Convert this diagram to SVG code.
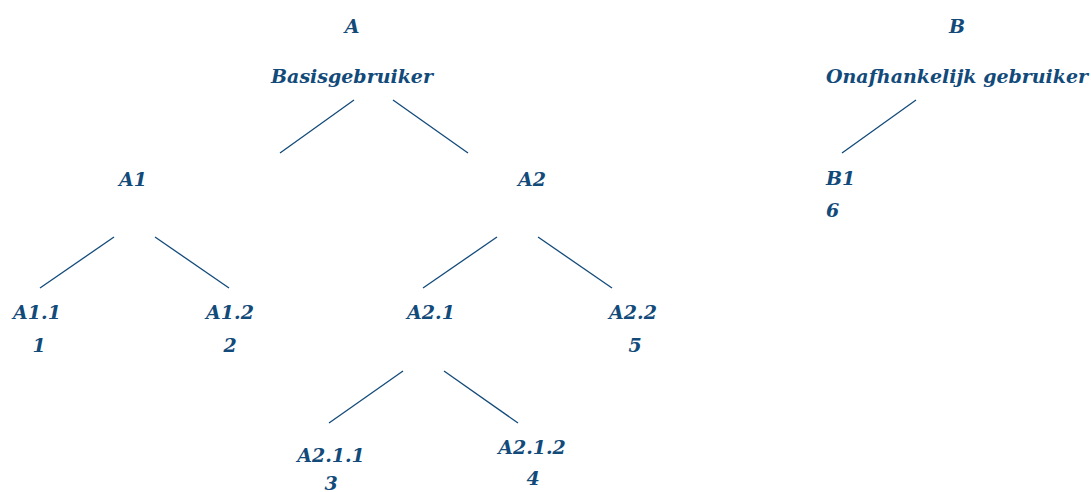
<svg xmlns="http://www.w3.org/2000/svg" width="1091" height="492" viewBox="0 0 1091 492">
<style>
text{font-family:"DejaVu Serif","Liberation Serif",serif;font-weight:bold;font-style:italic;font-size:19px;fill:#124a7a;text-anchor:middle}
.l{text-anchor:start}
line{stroke:#124a7a;stroke-width:1.3}
</style>
<rect width="1091" height="492" fill="#fff"/>
<g id="connectors">
<line x1="354" y1="100" x2="280" y2="153"/>
<line x1="393" y1="100" x2="468" y2="153"/>
<line x1="114" y1="237" x2="40" y2="288"/>
<line x1="155" y1="237" x2="229" y2="288"/>
<line x1="497" y1="237" x2="423" y2="288"/>
<line x1="538" y1="237" x2="612" y2="288"/>
<line x1="403" y1="371" x2="329" y2="423"/>
<line x1="444" y1="371" x2="518" y2="423"/>
<line x1="916" y1="100" x2="842" y2="153"/>
</g>
<g id="A"><text x="352" y="33">A</text><text x="352" y="83">Basisgebruiker</text></g>
<g id="A1"><text x="133" y="186">A1</text></g>
<g id="A2"><text x="532" y="186">A2</text></g>
<g id="A1.1"><text x="37" y="319">A1.1</text><text x="39" y="352">1</text></g>
<g id="A1.2"><text x="230" y="319">A1.2</text><text x="230" y="352">2</text></g>
<g id="A2.1"><text x="431" y="319">A2.1</text></g>
<g id="A2.2"><text x="633" y="319">A2.2</text><text x="635" y="352">5</text></g>
<g id="A2.1.1"><text x="331" y="462">A2.1.1</text><text x="331" y="490">3</text></g>
<g id="A2.1.2"><text x="532" y="454">A2.1.2</text><text x="533" y="485">4</text></g>
<g id="B"><text x="957" y="33">B</text><text class="l" x="826" y="83">Onafhankelijk gebruiker</text></g>
<g id="B1"><text class="l" x="826" y="185">B1</text><text class="l" x="826" y="217">6</text></g>
</svg>
